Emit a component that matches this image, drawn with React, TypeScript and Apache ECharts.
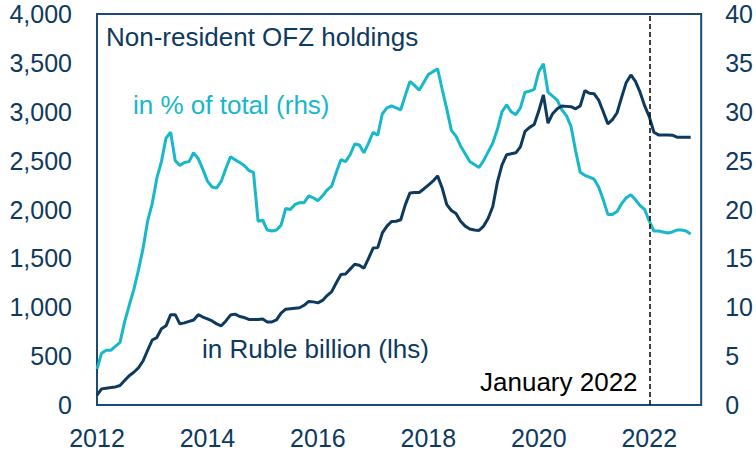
import React, { useEffect, useRef } from "react";
import * as echarts from "echarts";

// Monthly, Jan 2012 .. Oct 2022
const START_YEAR = 2012;
const rubleBillion = [
  100, 165, 172, 178, 185, 200, 250, 300, 335, 380, 450, 560,
  665, 690, 780, 810, 924, 924, 830, 840, 855, 870, 924, 900,
  880, 860, 830, 810, 860, 920, 930, 905, 895, 875, 875, 875,
  880, 850, 850, 870, 940, 980, 985, 990, 995, 1020, 1060, 1055,
  1045, 1070, 1120, 1160, 1250, 1335, 1340, 1390, 1440, 1430, 1400, 1500,
  1605, 1610, 1760, 1830, 1877, 1880, 1895, 2050, 2170, 2174, 2174, 2210,
  2250, 2290, 2344, 2220, 2050, 1990, 1960, 1880, 1830, 1800, 1790, 1785,
  1830, 1910, 2030, 2280, 2457, 2560, 2570, 2580, 2640, 2800, 2840, 2870,
  3010, 3172, 2883, 2980, 3030, 3058, 3055, 3052, 3030, 3060, 3216, 3189,
  3185, 3120, 3000, 2876, 2920, 2990, 3150, 3300, 3376, 3310, 3200, 3060,
  2950, 2790, 2763, 2763, 2763, 2760, 2740, 2740, 2740, 2740,
];
const pctOfTotal = [
  3.7, 5.3, 5.6, 5.6, 6.0, 6.4, 8.5, 10.2, 11.8, 13.8, 16.0, 18.8,
  20.6, 23.2, 24.9, 27.3, 27.9, 25.0, 24.5, 24.8, 24.9, 25.8, 25.2, 24.1,
  22.9, 22.3, 22.2, 22.9, 24.2, 25.4, 25.1, 24.8, 24.5, 24.0, 23.8, 18.8,
  18.9, 17.9, 17.8, 17.9, 18.4, 20.1, 20.0, 20.5, 20.7, 20.7, 21.4, 21.2,
  20.9, 21.4, 22.0, 22.4, 23.8, 25.1, 24.9, 25.6, 26.7, 26.6, 25.8, 26.8,
  27.9, 27.6, 29.8, 30.4, 30.6, 30.4, 30.2, 31.7, 33.1, 32.7, 32.2, 33.0,
  33.8, 34.1, 34.4, 32.3, 30.3, 28.1, 27.5, 26.5, 25.7, 24.9, 24.6, 24.3,
  25.0, 25.9, 26.8, 28.2, 30.0, 30.7, 30.0, 29.7, 30.4, 32.0, 32.1, 32.3,
  34.1, 34.9, 32.0, 31.6, 31.2, 30.2, 29.6, 28.5, 26.0, 23.8, 23.5, 23.3,
  23.1, 22.3, 21.0, 19.5, 19.5, 19.8, 20.6, 21.2, 21.5, 21.0, 20.4, 20.0,
  18.8, 17.8, 17.8, 17.7, 17.6, 17.7, 17.9, 17.9, 17.8, 17.5,
];
const xMin = 2012;
const xMax = 2022.94;
const xInterval = 2;
const leftMax = 4000;
const leftInterval = 500;
const rightMax = 40;
const rightInterval = 5;
const markerYear = 2022;
const titleText = "Non-resident OFZ holdings";
const pctLabel = "in % of total (rhs)";
const rubleLabel = "in Ruble billion (lhs)";
const markerLabel = "January 2022";

const NAVY = "#0D3A5E";
const CYAN = "#17B8C9";
const FONT = "'Liberation Sans', Arial, sans-serif";

export default function App() {
  const ref = useRef<HTMLDivElement>(null);
  useEffect(() => {
    document.body.style.margin = "0";
    const chart = echarts.init(ref.current!, null, { renderer: "svg" });
    const toXY = (arr: number[]) =>
      arr.map((v, i) => [START_YEAR + i / 12, v]);
    chart.setOption({
      animation: false,
      textStyle: { fontFamily: FONT },
      grid: {
        left: 97,
        right: 54,
        top: 14,
        bottom: 45,
        show: true,
        borderColor: "#1B4A74",
        borderWidth: 2,
        backgroundColor: "transparent",
      },
      xAxis: {
        type: "value",
        min: xMin,
        max: xMax,
        interval: xInterval,
        axisLine: { show: false },
        axisTick: { show: false },
        splitLine: { show: false },
        axisLabel: {
          color: NAVY,
          fontSize: 25,
          fontFamily: FONT,
          margin: 20,
          showMaxLabel: false,
          formatter: (v: number) => String(Math.round(v)),
        },
      },
      yAxis: [
        {
          type: "value",
          min: 0,
          max: leftMax,
          interval: leftInterval,
          axisLine: { show: false },
          axisTick: { show: false },
          splitLine: { show: false },
          axisLabel: {
            color: NAVY,
            fontSize: 25,
            fontFamily: FONT,
            margin: 25,
            formatter: (v: number) => v.toLocaleString("en-US"),
          },
        },
        {
          type: "value",
          min: 0,
          max: rightMax,
          interval: rightInterval,
          position: "right",
          axisLine: { show: false },
          axisTick: { show: false },
          splitLine: { show: false },
          axisLabel: {
            color: NAVY,
            fontSize: 25,
            fontFamily: FONT,
            margin: 24,
          },
        },
      ],
      series: [
        {
          type: "line",
          yAxisIndex: 1,
          data: toXY(pctOfTotal),
          showSymbol: false,
          lineStyle: { color: CYAN, width: 3 },
          z: 2,
        },
        {
          type: "line",
          yAxisIndex: 0,
          data: toXY(rubleBillion),
          showSymbol: false,
          lineStyle: { color: NAVY, width: 3 },
          z: 3,
          markLine: {
            silent: true,
            symbol: ["none", "none"],
            label: { show: false },
            lineStyle: { color: "#000", type: [5, 3], width: 1.5 },
            data: [{ xAxis: markerYear }],
          },
        },
      ],
      graphic: [
        {
          type: "text",
          left: 106,
          top: 24,
          style: { text: titleText, fill: NAVY, fontSize: 26, fontFamily: FONT },
        },
        {
          type: "text",
          left: 133,
          top: 92,
          style: { text: pctLabel, fill: CYAN, fontSize: 26, fontFamily: FONT },
        },
        {
          type: "text",
          left: 202,
          top: 336,
          style: { text: rubleLabel, fill: NAVY, fontSize: 26, fontFamily: FONT },
        },
        {
          type: "text",
          left: 480,
          top: 369,
          style: { text: markerLabel, fill: "#000", fontSize: 26, fontFamily: FONT },
        },
      ],
    });
    return () => chart.dispose();
  }, []);
  return <div ref={ref} style={{ width: 756, height: 450 }} />;
}
